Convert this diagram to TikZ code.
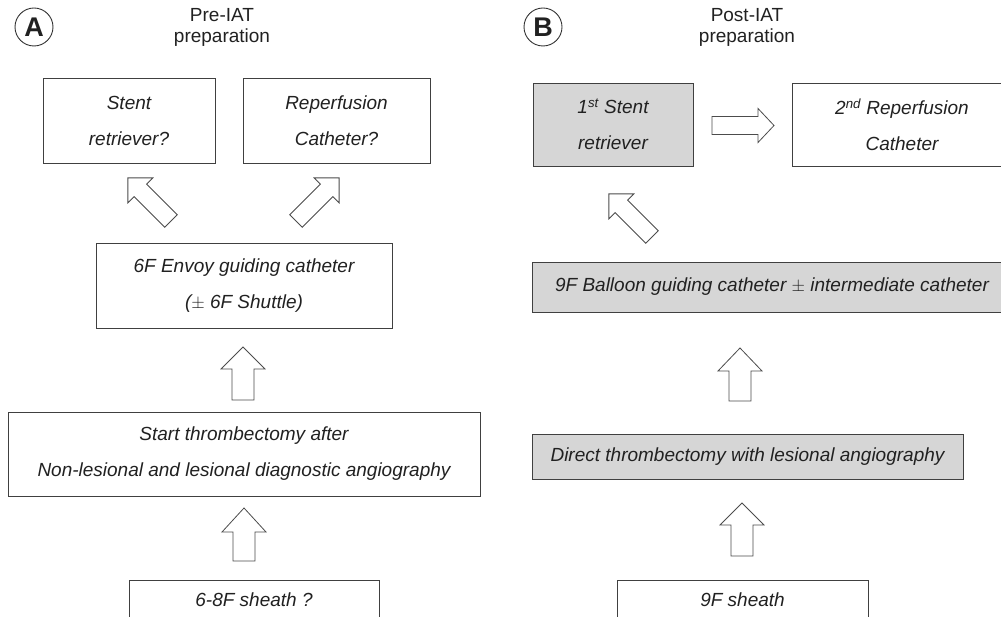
\documentclass[tikz,border=0pt]{standalone}
\usepackage{fontspec}
\setmainfont{Liberation Sans}
\definecolor{boxgray}{gray}{0.84}
\definecolor{inkc}{gray}{0.13}
\newcommand\bxfont{\fontsize{19}{36}\selectfont\itshape}
\newcommand\ttlfont{\fontsize{19}{21.5}\selectfont}
\newcommand\circfont{\fontsize{27}{30}\selectfont\bfseries}
% tail x, tail y, angle, length, shaft half-width, head half-width, head length
\newcommand\blkarrow[7]{%
  \begin{scope}[shift={(#1,#2)}, rotate=#3]
    \draw[blk] (0,#5) -- ({#4-#7},#5) -- ({#4-#7},#6) -- (#4,0) -- ({#4-#7},-#6) -- ({#4-#7},-#5) -- (0,-#5) -- cycle;
  \end{scope}}
\begin{document}
\begin{tikzpicture}[x=1pt,y=-1pt,
  box/.style={draw=black!75, line width=0.9pt, fill=white, text=inkc, font=\bxfont, align=center, inner sep=0pt},
  gbox/.style={box, fill=boxgray},
  blk/.style={draw=black!70, line width=0.8pt, fill=white, line join=miter},
  ttl/.style={text=inkc, font=\ttlfont, align=center, inner sep=0pt},
  letter/.style={circle, draw=black!80, line width=0.9pt, minimum size=38pt, inner sep=0pt, text=inkc, font=\circfont}
]
\useasboundingbox (0,0) rectangle (1001,617);
\clip (0,0) rectangle (1001,617);

% ---------- Panel A ----------
\node[letter] (cA) at (34,27) {A};
\node[ttl, anchor=north] (tA) at (222,8) {Pre-IAT\\preparation};

\node[box, minimum width=172pt, minimum height=85pt] (sA) at (129,120.5) {Stent\\retriever?};
\node[box, minimum width=187pt, minimum height=85pt] (rA) at (336.5,120.5) {Reperfusion\\Catheter?};
\node[box, minimum width=296pt, minimum height=85pt] (eA) at (244,285.5) {6F Envoy guiding catheter\\($\pm$ 6F Shuttle)};
\node[box, minimum width=472pt, minimum height=84pt] (stA) at (244,454) {Start thrombectomy after\\Non-lesional and lesional diagnostic angiography};
\node[box, minimum width=250pt, minimum height=40pt] (shA) at (254,600) {6-8F sheath ?};

\blkarrow{171}{221}{135}{61}{8.8}{17.7}{17.7}
\blkarrow{296}{221}{45}{61}{8.8}{17.7}{17.7}
\blkarrow{243}{400}{90}{53}{11}{22}{22}
\blkarrow{244}{561}{90}{53}{11}{22}{24}

% ---------- Panel B ----------
\node[letter] (cB) at (543,27) {B};
\node[ttl, anchor=north] (tB) at (747,8) {Post-IAT\\preparation};

\node[gbox, minimum width=160pt, minimum height=83pt] (sB) at (613,124.5) {1\textsuperscript{st} Stent\\retriever};
\node[box, minimum width=220pt, minimum height=83pt] (rB) at (902,124.5) {2\textsuperscript{nd} Reperfusion\\Catheter};
\node[gbox, minimum width=480pt, minimum height=50pt] (bB) at (772,287) {9F Balloon guiding catheter $\pm$ intermediate catheter};
\node[gbox, minimum width=431pt, minimum height=45pt] (dB) at (747.5,456.5) {Direct thrombectomy with lesional angiography};
\node[box, minimum width=251pt, minimum height=40pt] (shB) at (742.5,600) {9F sheath};

\blkarrow{712}{125.5}{0}{62}{9}{17}{16}
\blkarrow{652}{237}{135}{61}{8.8}{17.7}{17.7}
\blkarrow{740}{401}{90}{53}{11}{22}{23}
\blkarrow{742}{556}{90}{53}{11}{22}{22}
\end{tikzpicture}
\end{document}
